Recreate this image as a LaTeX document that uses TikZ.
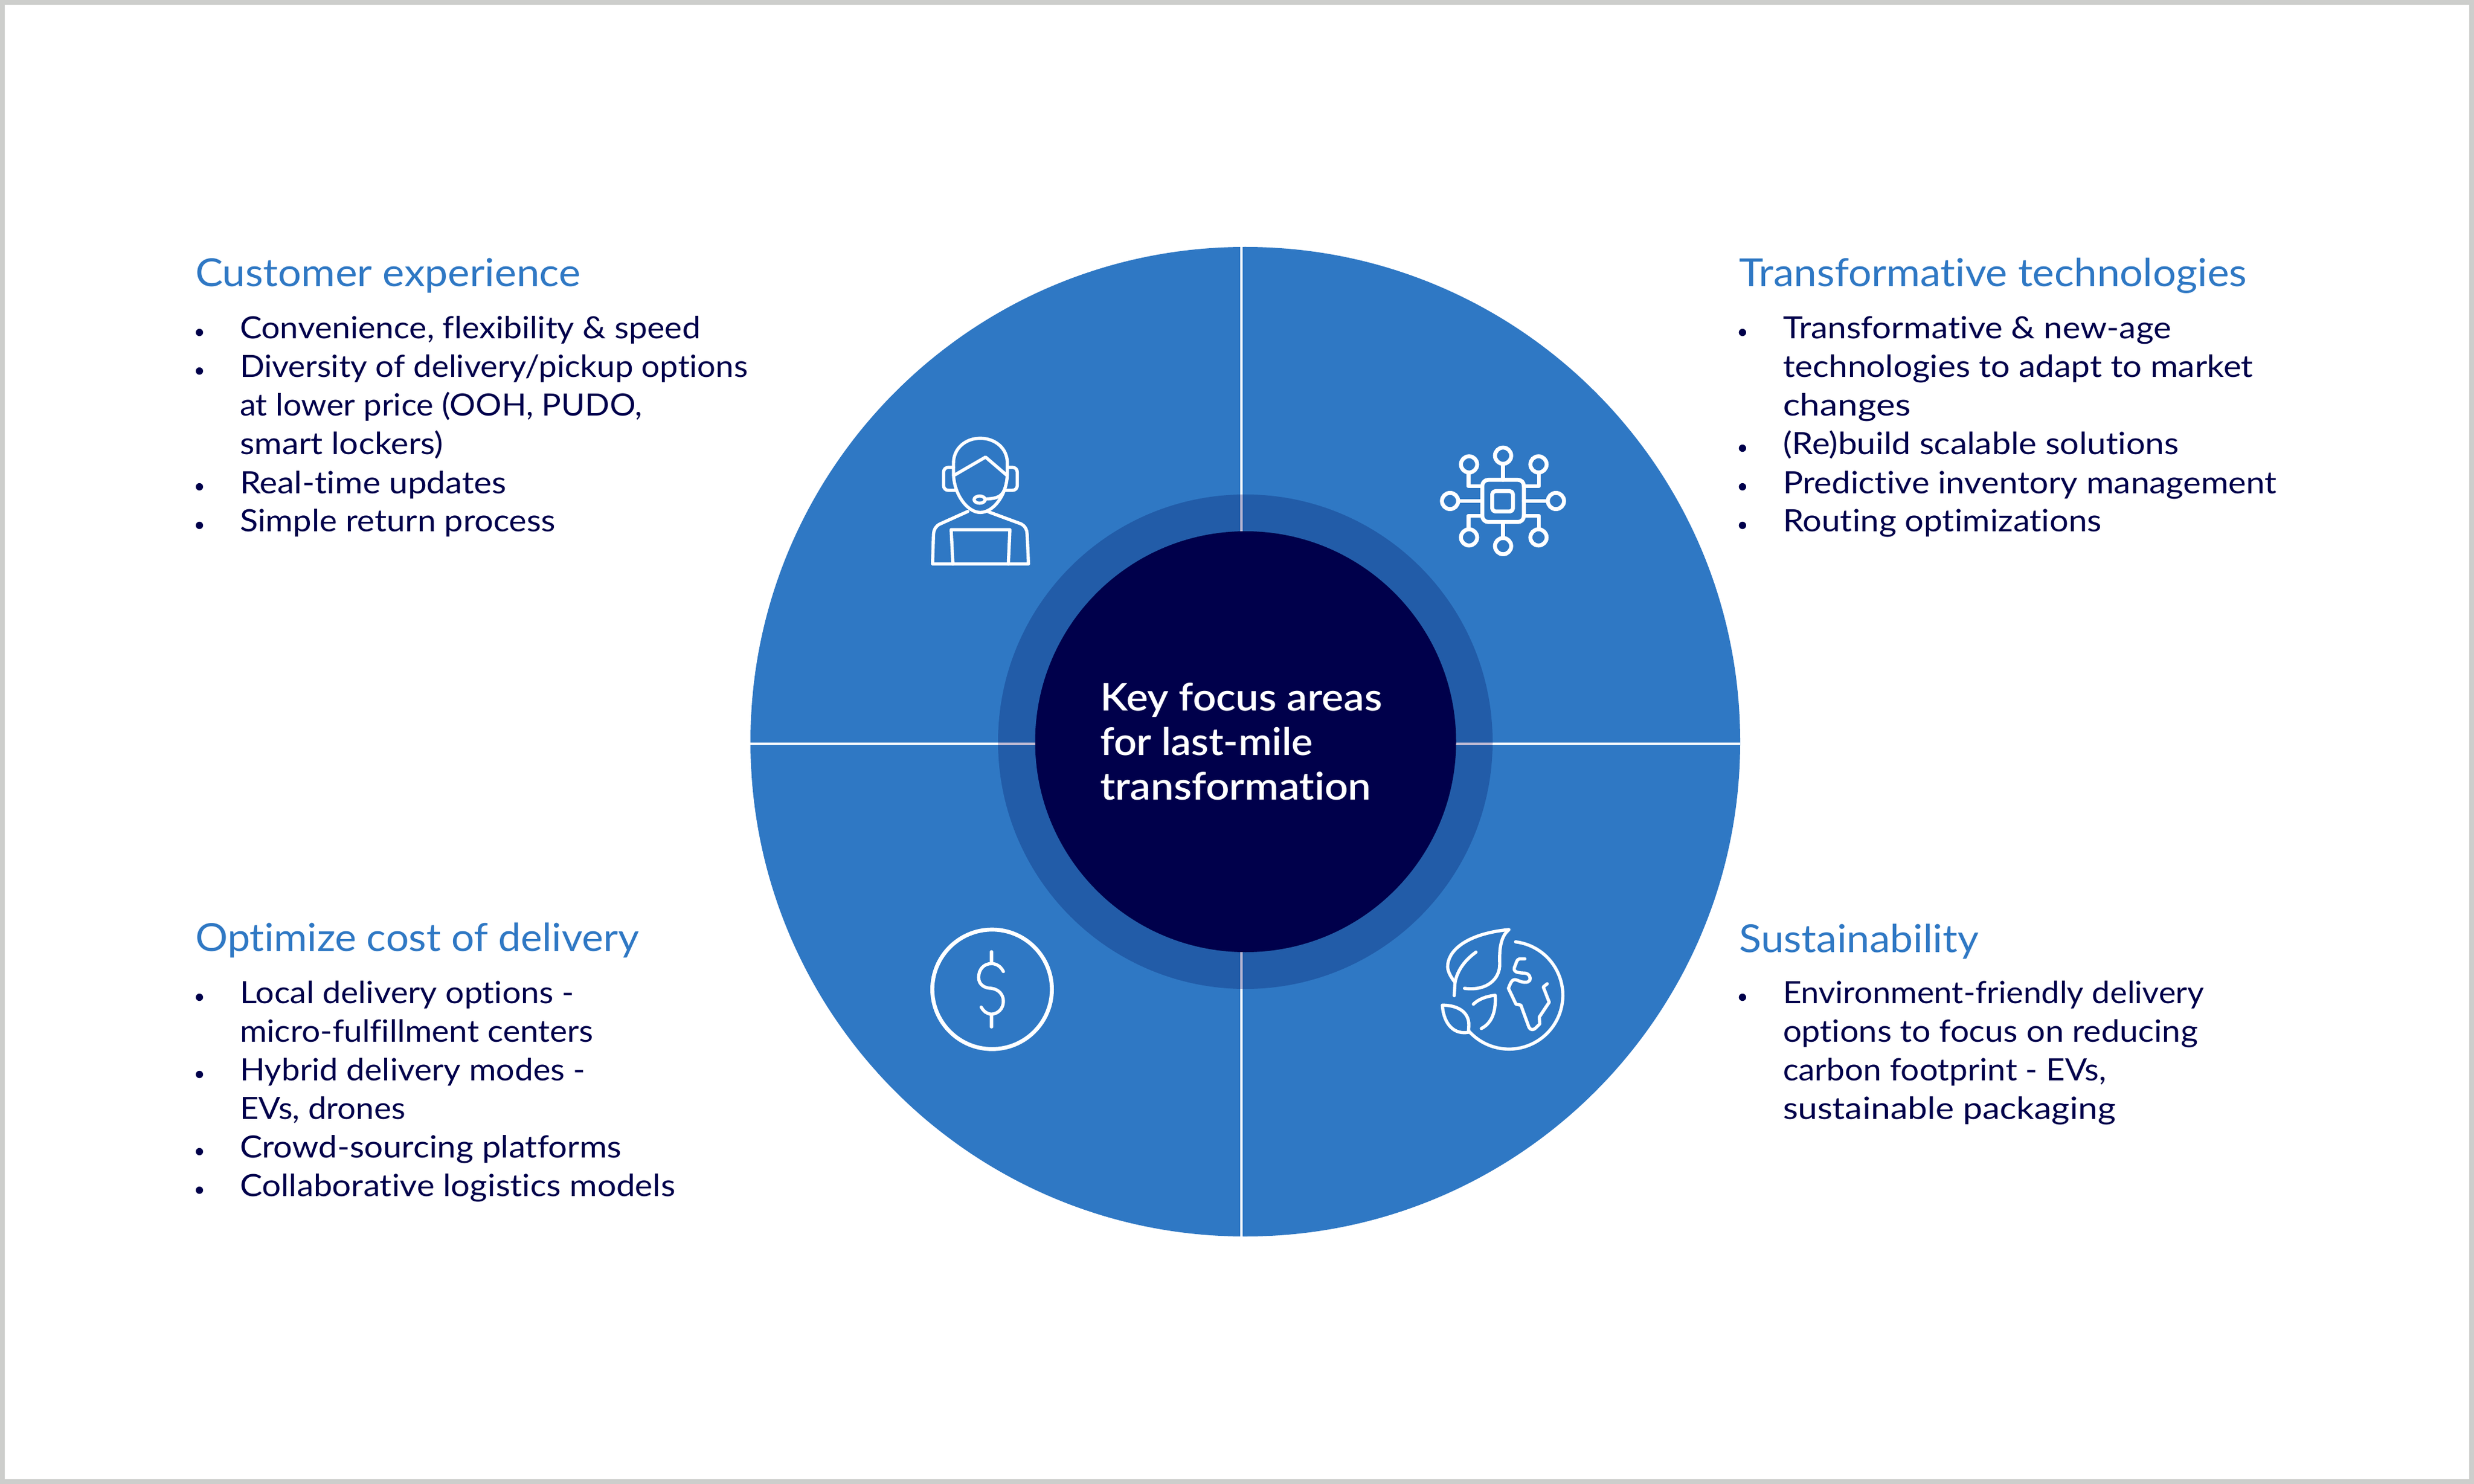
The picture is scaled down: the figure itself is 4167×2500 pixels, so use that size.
\documentclass[tikz,border=0pt]{standalone}
\usepackage{fontspec}
\setmainfont[Ligatures=NoCommon]{Lato}
\newfontfamily\medfont[Ligatures=NoCommon]{Lato Semibold}
\definecolor{discblue}{HTML}{2F78C4}
\definecolor{ringblue}{HTML}{225CA8}
\definecolor{navy}{HTML}{00004B}
\definecolor{framegrey}{HTML}{CDCECC}
\definecolor{ringline}{HTML}{BDB9D3}
\newcommand{\bodyfont}{\fontsize{12.4pt}{15.67pt}\selectfont}
\newcommand{\headfont}{\fontsize{15.6pt}{18pt}\selectfont}
\newcommand{\centerfont}{\medfont\fontsize{15.4pt}{18pt}\selectfont}
% #1 left edge in picture units, #2 right edge in 1568-wide units, #3 text
\newcommand{\fitto}[3]{\pgfmathsetmacro{\fitw}{0.24*(#2*2.6575-#1)}\resizebox{\fitw pt}{\height}{#3}}
\newcommand{\mainline}[5]{\node[bodytext] (#1) at (#2,#3) {\fitto{#2}{#4}{#5}};}
\newcommand{\bulletline}[5]{\node[bodytext] (#1) at (#2,#3) {\fitto{#2}{#4}{#5}};\node[bulletmark] (#1b) at (#2-68,#3) {•};}
\newcommand{\headline}[5]{\node[headtext] (#1) at (#2,#3) {\fitto{#2}{#4}{#5}};}
\newcommand{\centreline}[5]{\node[centertext] (#1) at (#2,#3) {\fitto{#2}{#4}{#5}};}
\begin{document}
\begin{tikzpicture}[x=0.24pt,y=-0.24pt,
  bodytext/.style={anchor=base west,inner sep=0pt,outer sep=0pt,text=navy,font=\bodyfont},
  bulletmark/.style={anchor=base,inner sep=0pt,outer sep=0pt,text=navy,font=\fontsize{8pt}{10pt}\selectfont},
  headtext/.style={anchor=base west,inner sep=0pt,outer sep=0pt,text=discblue,font=\headfont},
  centertext/.style={anchor=base west,inner sep=0pt,outer sep=0pt,text=white,font=\centerfont},
  icon at/.style={shift={(#1)},x=0.08pt,y=-0.08pt},
  iconline/.style={draw=white,line cap=round,line join=round,line width=1.3pt},
  iconheavy/.style={draw=white,line cap=round,line join=round,line width=1.6pt}]
\useasboundingbox (0,0) rectangle (4167,2500);
\fill[white] (0,0) rectangle (4167,2500);
\draw[framegrey,line width=1.92pt] (4,4) rectangle (4163,2496);
% disc
\fill[discblue] (2097.5,1249.5) circle[radius=833.5];
\draw[white,line width=1.15pt] (1264,1253) -- (2931,1253);
\draw[white,line width=1.15pt] (2091,416) -- (2091,2083);
\fill[ringblue] (2097.5,1249.5) circle[radius=416.5];
\draw[ringline,line width=1.15pt] (1681,1253) -- (2514,1253);
\draw[ringline,line width=1.15pt] (2091,833) -- (2091,1666);
\fill[navy] (2098,1249.5) circle[radius=354.5];
% centre text
\centreline{c1}{1853}{1197}{876}{Key focus areas}
\centreline{c2}{1853}{1272}{832}{for last-mile}
\centreline{c3}{1853}{1347}{869}{transformation}
% customer experience
\headline{h1}{329}{483}{368}{Customer experience}
\bulletline{a1}{404}{571}{444}{Convenience, flexibility \& speed}
\bulletline{a2}{404}{636}{474}{Diversity of delivery/pickup options}
\mainline{a3}{404}{701}{407}{at lower price (OOH, PUDO,}
\mainline{a4}{404}{766}{281}{smart lockers)}
\bulletline{a5}{404}{831}{321}{Real-time updates}
\bulletline{a6}{404}{896}{352}{Simple return process}
% transformative technologies
\headline{h2}{2929}{483}{1424}{Transformative technologies}
\bulletline{b1}{3003}{571}{1376}{Transformative \& new-age}
\mainline{b2}{3003}{636}{1428}{technologies to adapt to market}
\mainline{b3}{3003}{701}{1211}{changes}
\bulletline{b4}{3003}{766}{1381}{(Re)build scalable solutions}
\bulletline{b5}{3003}{831}{1443}{Predictive inventory management}
\bulletline{b6}{3003}{896}{1332}{Routing optimizations}
% optimize cost
\headline{h3}{329}{1602}{405}{Optimize cost of delivery}
\bulletline{d1}{404}{1690}{364}{Local delivery options -}
\mainline{d2}{404}{1755}{376}{micro-fulfillment centers}
\bulletline{d3}{404}{1820}{371}{Hybrid delivery modes -}
\mainline{d4}{404}{1885}{257}{EVs, drones}
\bulletline{d5}{404}{1950}{394}{Crowd-sourcing platforms}
\bulletline{d6}{404}{2015}{428}{Collaborative logistics models}
% sustainability
\headline{h4}{2929}{1604}{1254}{Sustainability}
\bulletline{s1}{3003}{1690}{1397}{Environment-friendly delivery}
\mainline{s2}{3003}{1755}{1393}{options to focus on reducing}
\mainline{s3}{3003}{1820}{1335}{carbon footprint - EVs,}
\mainline{s4}{3003}{1885}{1341}{sustainable packaging}
% agent icon
\begin{scope}[icon at={(1500,700)}]
\draw[iconline] (318,240) .. controls (318,165) and (380,115) .. (453,115) .. controls (528,115) and (590,165) .. (590,240) -- (590,290) .. controls (590,400) and (520,490) .. (453,490) .. controls (390,490) and (318,400) .. (318,290) -- cycle;
\draw[iconline] (325,300) -- (480,210) -- (585,300);
\draw[iconline] (318,262) -- (292,262) .. controls (278,262) and (268,272) .. (268,286) -- (268,354) .. controls (268,368) and (278,378) .. (292,378) -- (330,378);
\draw[iconline] (590,262) -- (616,262) .. controls (630,262) and (640,272) .. (640,286) -- (640,354) .. controls (640,368) and (630,378) .. (616,378) -- (578,378);
\draw[iconline] (450,425) ellipse[x radius=28,y radius=18];
\draw[iconline] (478,422) .. controls (520,420) and (560,418) .. (575,375);
\draw[iconline] (390,485) -- (250,548) .. controls (228,558) and (218,578) .. (217,600) -- (212,750) -- (697,750) -- (690,600) .. controls (690,578) and (680,558) .. (660,548) -- (495,487);
\draw[iconline] (315,750) -- (306,577) -- (603,577) -- (595,750);
\end{scope}
% chip icon
\begin{scope}[icon at={(2380,720)}]
\draw[iconheavy,rounded corners=2.4pt] (350,265) rectangle (560,478);
\draw[iconheavy,rounded corners=1.3pt] (400,322) rectangle (505,425);
\foreach \cx/\cy in {455/143,283/187,634/187,187/372,722/372,283/556,634/556,455/600}
  \draw[iconheavy] (\cx,\cy) circle[radius=41];
\draw[iconheavy] (455,184) -- (455,265) (455,478) -- (455,559);
\draw[iconheavy] (228,372) -- (350,372) (560,372) -- (681,372);
\draw[iconheavy] (280,228) -- (280,297) -- (350,297);
\draw[iconheavy] (636,228) -- (636,297) -- (560,297);
\draw[iconheavy] (280,515) -- (280,447) -- (350,447);
\draw[iconheavy] (636,515) -- (636,447) -- (560,447);
\end{scope}
% dollar icon
\begin{scope}[icon at={(1540,1530)}]
\draw[iconheavy] (393,410) circle[radius=302];
\draw[iconline] (390,220) -- (390,280) (390,540) -- (390,600);
\draw[iconline] (450,320) .. controls (435,290) and (410,280) .. (390,280) .. controls (350,280) and (325,310) .. (325,350) .. controls (325,390) and (360,405) .. (390,405) .. controls (425,410) and (450,435) .. (450,470) .. controls (450,510) and (420,535) .. (390,535) .. controls (365,535) and (350,520) .. (338,500);
\end{scope}
% earth icon
\begin{scope}[icon at={(2400,1540)}]
\draw[iconline] (458,140) arc[start angle=-83,end angle=137.7,radius=272];
\draw[iconline] (148,412) -- (152,345) .. controls (125,310) and (115,285) .. (115,265) .. controls (115,190) and (200,100) .. (425,78) .. controls (385,110) and (375,170) .. (378,250) .. controls (380,330) and (310,390) .. (200,375);
\draw[iconline] (258,192) .. controls (205,230) and (165,280) .. (152,345);
\draw[iconline] (245,455) .. controls (270,430) and (310,415) .. (355,410) .. controls (360,490) and (340,550) .. (285,578);
\draw[iconline] (88,460) .. controls (160,460) and (222,490) .. (222,560) -- (220,597) .. controls (150,610) and (95,560) .. (88,460) -- cycle;
\draw[iconline] (505,226) -- (478,226) .. controls (462,228) and (462,250) .. (452,270) .. controls (445,295) and (475,297) .. (505,298) .. controls (530,302) and (535,320) .. (530,335) .. controls (520,350) and (490,345) .. (470,335) .. controls (445,325) and (440,335) .. (430,355) -- (422,375) -- (460,455) -- (485,460) -- (525,570) .. controls (535,590) and (550,585) .. (560,575) -- (580,555) -- (578,520) -- (628,445) -- (598,368) -- (618,352);
\end{scope}
\end{tikzpicture}
\end{document}
